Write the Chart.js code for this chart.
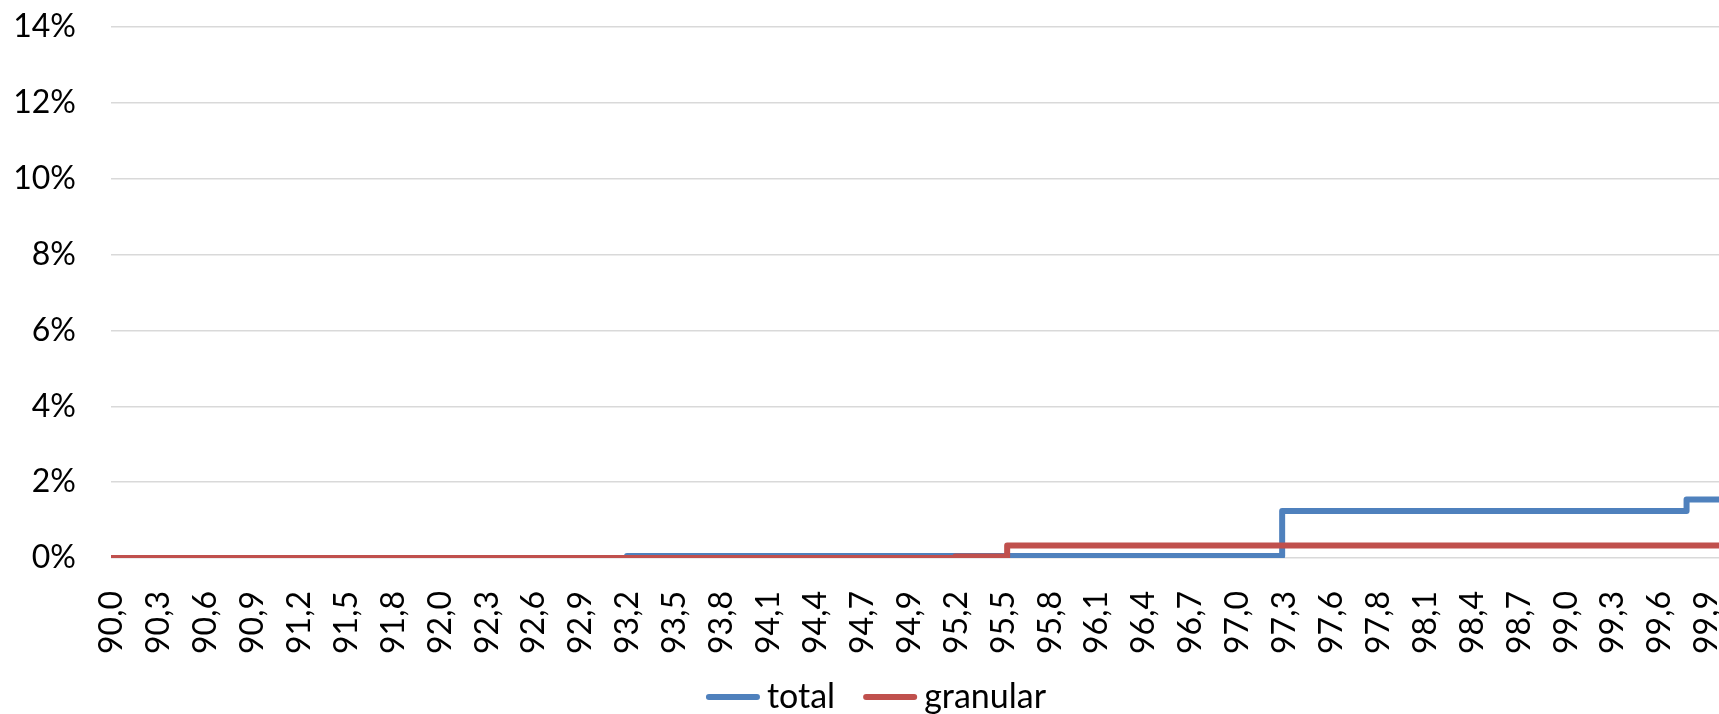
<!DOCTYPE html>
<html>
<head>
<meta charset="utf-8">
<title>total vs granular</title>
<script src="https://cdn.jsdelivr.net/npm/chart.js@4.4.1/dist/chart.umd.min.js"></script>
<style>
  html, body { margin: 0; padding: 0; overflow: hidden; background: #ffffff; }
  #wrap { width: 1766px; height: 724px; }
</style>
</head>
<body>
<div id="wrap"><canvas id="chart" width="1766" height="724"></canvas></div>
<script>
// Category labels shown along the horizontal axis (every third point of the series)
const xLabels = ['90,0','90,3','90,6','90,9','91,2','91,5','91,8','92,0','92,3','92,6',
                 '92,9','93,2','93,5','93,8','94,1','94,4','94,7','94,9','95,2','95,5',
                 '95,8','96,1','96,4','96,7','97,0','97,3','97,6','97,8','98,1','98,4',
                 '98,7','99,0','99,3','99,6','99,9'];
const xTickStart = 90.016;
const xTickStep = 0.29;

// Step points: each value holds from its x until the next point
const totalX = [90.01, 93.20, 97.25, 99.75, 100.0];
const totalY = [0, 0.05, 1.24, 1.54, 1.54];
const granularX = [90.01, 95.23, 95.55, 100.0];
const granularY = [0, 0.04, 0.33, 0.33];

// Vertical axis ticks (percent)
const yTicks = [0, 2, 4, 6, 8, 10, 12, 14];

const AXIS_FONT = { family: 'Lato', size: 32 };
const LEGEND_FONT = { family: 'Lato', size: 34 };
const toPoints = (xs, ys) => xs.map((x, i) => ({ x: x, y: ys[i] }));

function draw() {
  new Chart(document.getElementById('chart'), {
    type: 'line',
    data: {
      datasets: [
        {
          label: 'total',
          data: toPoints(totalX, totalY),
          borderColor: '#4F81BD',
          backgroundColor: '#4F81BD',
          borderWidth: 6,
          stepped: true,
          pointRadius: 0,
          fill: false,
          borderJoinStyle: 'round',
          order: 1
        },
        {
          label: 'granular',
          data: toPoints(granularX, granularY),
          borderColor: '#C0504D',
          backgroundColor: '#C0504D',
          borderWidth: 6,
          stepped: true,
          pointRadius: 0,
          fill: false,
          borderJoinStyle: 'round',
          order: 0
        }
      ]
    },
    options: {
      responsive: false,
      animation: false,
      devicePixelRatio: 1,
      layout: { padding: { left: 0, right: 4, top: 27, bottom: 0 } },
      plugins: {
        tooltip: { enabled: false },
        legend: {
          position: 'bottom',
          labels: {
            usePointStyle: true,
            pointStyle: 'line',
            padding: 38,
            color: '#000000',
            font: LEGEND_FONT,
            sort: (a, b) => a.datasetIndex - b.datasetIndex,
            generateLabels: (chart) =>
              Chart.defaults.plugins.legend.labels.generateLabels(chart)
                .map(item => Object.assign(item, { lineCap: 'round' }))
          }
        }
      },
      scales: {
        x: {
          type: 'linear',
          min: 90.01,
          max: 100.0,
          grid: { display: false },
          border: { display: false },
          ticks: {
            autoSkip: false,
            minRotation: 90,
            maxRotation: 90,
            padding: 25,
            color: '#000000',
            font: AXIS_FONT,
            callback: (value, index) => xLabels[index]
          },
          afterBuildTicks: (scale) => {
            scale.ticks = xLabels.map((_, j) => ({ value: xTickStart + j * xTickStep }));
          },
          afterFit: (scale) => {
            scale.height = 84;
            scale.paddingLeft = 0;
            scale.paddingRight = 39;
            // rotated labels run past the axis box into the legend gap; keep them unclipped
            scale._computeLabelArea = () => undefined;
          }
        },
        y: {
          min: 0,
          max: 14,
          grid: { color: '#D9D9D9', lineWidth: 1.5, drawTicks: false },
          border: { display: false },
          ticks: {
            padding: 35,
            color: '#000000',
            font: AXIS_FONT,
            callback: (value) => value + '%'
          },
          afterBuildTicks: (scale) => {
            scale.ticks = yTicks.map(v => ({ value: v }));
          },
          afterFit: (scale) => {
            scale.width = 111;
            scale.paddingTop = 0;
            scale.paddingBottom = 0;
          }
        }
      }
    }
  });
}

if (document.fonts && document.fonts.load) {
  document.fonts.load('32px Lato').then(draw, draw);
} else {
  draw();
}
</script>
</body>
</html>
